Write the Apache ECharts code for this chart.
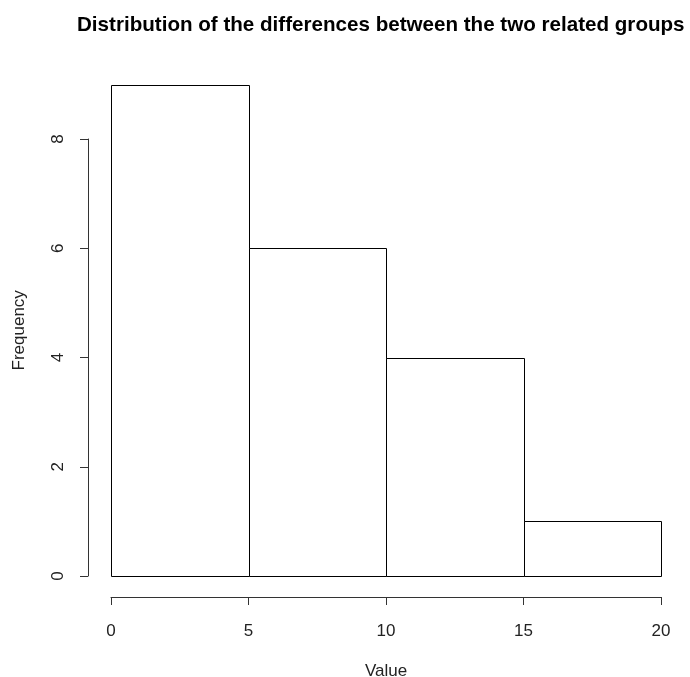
<!DOCTYPE html>
<html>
<head>
<meta charset="utf-8">
<script src="https://cdn.jsdelivr.net/npm/echarts@6/dist/echarts.min.js"></script>
<style>html,body{margin:0;padding:0;background:#fff;}#c{width:690px;height:677px;}</style>
</head>
<body>
<div id="c"></div>
<script>
const binStarts = [0, 5, 10, 15];
const binEnds = [5, 10, 15, 20];
const frequencies = [9, 6, 4, 1];
const xTicks = [0, 5, 10, 15, 20];
const yTicks = [0, 2, 4, 6, 8];

const font = 'Liberation Sans, Arial, sans-serif';
const chart = echarts.init(document.getElementById('c'));
const data = binStarts.map((s, i) => [s, binEnds[i], frequencies[i]]);

chart.setOption({
  animation: false,
  backgroundColor: '#fff',
  title: {
    text: 'Distribution of the differences between the two related groups',
    left: 72, top: 10,
    textStyle: { fontFamily: font, fontWeight: 'bold', fontSize: 20.6, color: '#000' }
  },
  grid: [
    { left: 111, right: 29, top: 84.6, bottom: 101, outerBoundsMode: 'none', containLabel: false },
    { left: 111, right: 29, top: 139, bottom: 101, outerBoundsMode: 'none', containLabel: false }
  ],
  xAxis: [
    {
      gridIndex: 0, type: 'value', min: 0, max: 20, interval: 5,
      offset: 21,
      name: 'Value', nameLocation: 'middle', nameGap: 66,
      nameTextStyle: { fontFamily: font, fontSize: 17, color: '#222' },
      axisLine: { show: true, onZero: false, lineStyle: { color: '#333', width: 1 } },
      axisTick: { show: true, length: 8, lineStyle: { color: '#333' } },
      axisLabel: { margin: 26, fontFamily: font, fontSize: 17, color: '#222' },
      splitLine: { show: false }
    },
    {
      gridIndex: 1, type: 'value', min: 0, max: 20, show: false
    }
  ],
  yAxis: [
    {
      gridIndex: 0, type: 'value', min: 0, max: 9,
      name: 'Frequency', nameLocation: 'middle', nameGap: 83,
      nameTextStyle: { fontFamily: font, fontSize: 17, color: '#222' },
      axisLine: { show: false, onZero: false }, axisTick: { show: false },
      axisLabel: { show: false }, splitLine: { show: false }
    },
    {
      gridIndex: 1, type: 'value', min: 0, max: 8, interval: 2,
      offset: 23,
      axisLine: { show: true, onZero: false, lineStyle: { color: '#333', width: 1 } },
      axisTick: { show: true, length: 8, lineStyle: { color: '#333' } },
      axisLabel: { rotate: 90, margin: 21, fontFamily: font, fontSize: 17, color: '#222' },
      splitLine: { show: false }
    }
  ],
  series: [{
    type: 'custom',
    xAxisIndex: 0, yAxisIndex: 0,
    data: data,
    encode: { x: [0, 1], y: 2 },
    renderItem: function (params, api) {
      const p0 = api.coord([api.value(0), 0]);
      const p1 = api.coord([api.value(1), api.value(2)]);
      return {
        type: 'rect',
        shape: { x: Math.round(p0[0]) + 0.5, y: Math.round(p1[1]) + 0.5, width: Math.round(p1[0]) - Math.round(p0[0]), height: Math.round(p0[1]) - Math.round(p1[1]) },
        style: { fill: '#fff', stroke: '#000', lineWidth: 1 }
      };
    }
  }]
});
</script>
</body>
</html>
